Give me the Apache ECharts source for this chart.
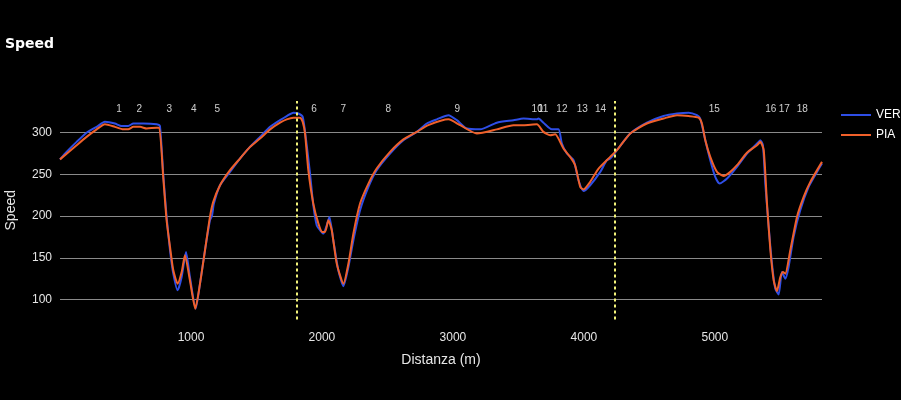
<!DOCTYPE html>
<html>
<head>
<meta charset="utf-8">
<script src="https://cdn.jsdelivr.net/npm/echarts@6/dist/echarts.min.js"></script>
<style>html,body{margin:0;padding:0;background:#000;}#c{width:901px;height:400px;}</style>
</head>
<body>
<div id="c"></div>
<script>
const verDist = [0,50,127,203,280,343,419,470,521,560,636,738,763,788,814,840,865,898,929,962,992,1036,1069,1107,1145,1160,1175,1222,1298,1374,1451,1527,1604,1680,1731,1782,1820,1853,1879,1909,1934,1960,1986,2011,2035,2057,2087,2125,2164,2202,2240,2291,2355,2418,2520,2622,2724,2801,2877,2966,3030,3106,3208,3335,3462,3539,3641,3653,3691,3755,3806,3832,3870,3921,3959,3997,4048,4125,4175,4201,4252,4354,4481,4608,4711,4800,4863,4888,4927,4965,5003,5036,5093,5169,5245,5322,5347,5367,5385,5411,5436,5461,5487,5512,5538,5563,5601,5652,5716,5780,5818];
const verSpeed = [268,277,289,300,307,313,311,308,308,311,311,310,308,251,199,159,131,111,127,157,127,89,119,159,195,200,215,237,253,269,283,295,307,315,320,324,323,319,291,251,213,189,183,179,188,199,171,135,116,139,171,207,235,255,275,291,301,311,316,321,315,305,304,312,315,317,316,317,312,304,304,287,275,267,243,230,237,253,267,269,279,299,312,320,323,324,321,317,291,267,247,239,245,259,275,287,291,285,239,187,143,113,106,133,125,139,175,207,235,253,263];

const piaDist = [0,127,203,280,343,419,483,521,560,611,662,738,758,788,814,840,865,898,929,954,992,1033,1069,1107,1145,1170,1222,1298,1374,1451,1527,1604,1680,1731,1782,1833,1853,1871,1896,1934,1973,2003,2024,2049,2075,2113,2164,2202,2240,2291,2355,2418,2520,2622,2724,2812,2966,3055,3183,3335,3462,3539,3641,3691,3742,3781,3844,3895,3933,3972,3997,4048,4112,4201,4252,4354,4481,4608,4711,4800,4876,4901,4927,4965,5016,5067,5118,5169,5245,5322,5347,5373,5398,5424,5449,5474,5500,5520,5538,5576,5627,5678,5729,5818];
const piaSpeed = [268,285,295,304,310,307,304,304,307,307,305,306,306,247,195,163,135,119,133,153,123,89,119,159,199,217,237,255,269,283,293,304,312,316,318,318,313,299,255,215,191,181,181,195,183,143,119,143,179,215,239,257,277,292,301,309,316,309,299,304,309,309,310,301,297,298,281,271,261,235,232,241,257,271,279,299,311,317,321,320,318,311,291,271,253,248,253,261,276,285,289,279,215,159,123,110,127,133,131,159,199,223,241,265];

const turnNames = ['1','2','3','4','5','6','7','8','9','10','11','12','13','14','15','16','17','18'];
const turnDist = [450,605,834,1021,1201,1940,2163,2507,3034,3643,3689,3832,3987,4127,4995,5427,5530,5668];
const turnLabelSpeed = 328;

const sectorLines = [1809, 4237];

const xMin = 0, xMax = 5818;
const yMin = 76, yMax = 338;

const zip = (a, b) => a.map((v, i) => [v, b[i]]);
const FONT = 'Liberation Sans, Arial, sans-serif';

const chart = echarts.init(document.getElementById('c'), null, {renderer: 'canvas'});
chart.setOption({
  backgroundColor: '#000',
  animation: false,
  textStyle: {fontFamily: FONT},
  title: {
    text: 'Speed', left: 5, top: 37, padding: 0,
    textStyle: {color: '#fff', fontSize: 14, fontWeight: 'bold', fontFamily: 'DejaVu Sans, sans-serif'}
  },
  legend: {
    data: ['VER', 'PIA'],
    icon: 'rect',
    orient: 'vertical', left: 841, top: 109, padding: 0,
    itemWidth: 30, itemHeight: 2, itemGap: 8,
    textStyle: {color: '#fff', fontSize: 12}
  },
  grid: {left: 60, right: 79, top: 101, bottom: 80.5, containLabel: false, outerBoundsMode: 'none'},
  xAxis: {
    type: 'value', min: xMin, max: xMax,
    name: 'Distanza (m)', nameLocation: 'middle', nameGap: 34,
    nameTextStyle: {color: '#e6e6e6', fontSize: 14},
    axisLine: {show: false}, axisTick: {show: false},
    splitLine: {show: false},
    axisLabel: {color: '#e6e6e6', fontSize: 12, margin: 12, showMinLabel: false, showMaxLabel: false,
      formatter: v => String(v)}
  },
  yAxis: {
    type: 'value', min: yMin, max: yMax,
    name: 'Speed', nameLocation: 'middle', nameGap: 42,
    nameTextStyle: {color: '#e6e6e6', fontSize: 14},
    axisLine: {show: false}, axisTick: {show: false},
    splitLine: {show: true, showMinLine: false, showMaxLine: false, lineStyle: {color: '#8a8a8a', width: 1}},
    axisLabel: {color: '#e6e6e6', fontSize: 12, margin: 8, showMinLabel: false, showMaxLabel: false}
  },
  series: [
    {
      name: 'VER', type: 'line', data: zip(verDist, verSpeed),
      symbol: 'none', smooth: 0.2,
      lineStyle: {color: '#2e4ee6', width: 2}, itemStyle: {color: '#2e4ee6'},
      markLine: {
        silent: true, symbol: 'none', label: {show: false},
        lineStyle: {color: '#f2f27a', type: [3, 3], width: 2},
        data: sectorLines.map(v => ({xAxis: v}))
      }
    },
    {
      name: 'PIA', type: 'line', data: zip(piaDist, piaSpeed),
      symbol: 'none', smooth: 0.2,
      lineStyle: {color: '#f0602a', width: 2}, itemStyle: {color: '#f0602a'}
    },
    {
      name: 'turns', type: 'scatter', silent: true,
      symbolSize: 0,
      data: turnDist.map((d, i) => ({value: [d, turnLabelSpeed], name: turnNames[i]})),
      label: {show: true, position: 'inside', formatter: p => p.name, color: '#fff', fontSize: 10}
    }
  ]
});
</script>
</body>
</html>
